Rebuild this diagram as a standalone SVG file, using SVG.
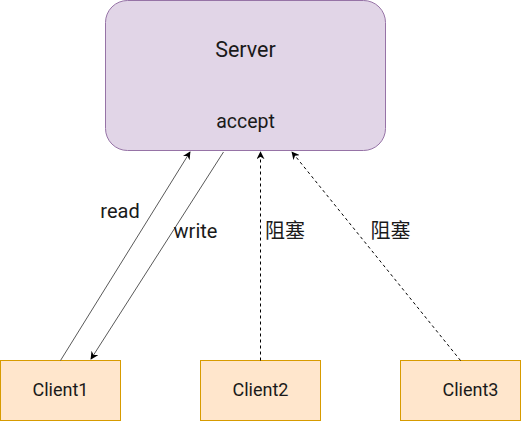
<svg xmlns="http://www.w3.org/2000/svg" width="521" height="421" viewBox="0 0 521 421">
<style>
.t{font-family:Roboto,"Noto Sans CJK SC",sans-serif;fill:#1a1a1a;text-anchor:middle}
.client{fill:#ffe6cc;stroke:#d79b00;stroke-width:1}
.solid{stroke:#595959;stroke-width:1;fill:none}
.dash{stroke:#000;stroke-width:1;fill:none;stroke-dasharray:3 3}
</style>
<defs>
<marker id="ah" viewBox="0 0 10 10" refX="9" refY="5" markerWidth="8" markerHeight="8" orient="auto" markerUnits="userSpaceOnUse">
<path d="M0,0 L10,5 L0,10 L3,5 Z" fill="#000"/>
</marker>
</defs>
<g id="server">
<rect x="105.5" y="0.5" width="280" height="150" rx="22" ry="22" fill="#e1d5e7" stroke="#9673a6"/>
<text class="t" x="245.5" y="57" font-size="21.5">Server</text>
<text class="t" x="245.5" y="128" font-size="19.5">accept</text>
</g>
<g id="client1">
<rect class="client" x="0.5" y="360.5" width="120" height="60"/>
<text class="t" x="60.5" y="396" font-size="18">Client1</text>
</g>
<g id="client2">
<rect class="client" x="200.5" y="360.5" width="120" height="60"/>
<text class="t" x="260.5" y="396" font-size="18">Client2</text>
</g>
<g id="client3">
<rect class="client" x="400.5" y="360.5" width="120" height="60"/>
<text class="t" x="470.5" y="396" font-size="18">Client3</text>
</g>
<g id="connectors">
<line class="solid" x1="60.5" y1="360.5" x2="190" y2="152" marker-end="url(#ah)"/>
<line class="solid" x1="223.5" y1="152" x2="91" y2="359" marker-end="url(#ah)"/>
<line class="dash" x1="260.5" y1="360.5" x2="260.5" y2="152" marker-end="url(#ah)"/>
<line class="dash" x1="460.5" y1="360.5" x2="292" y2="152" marker-end="url(#ah)"/>
<text class="t" x="120" y="218" font-size="20">read</text>
<text class="t" x="195.5" y="238" font-size="20">write</text>
<text class="t" x="285" y="238" font-size="20">阻塞</text>
<text class="t" x="390.5" y="238" font-size="20">阻塞</text>
</g>
</svg>
